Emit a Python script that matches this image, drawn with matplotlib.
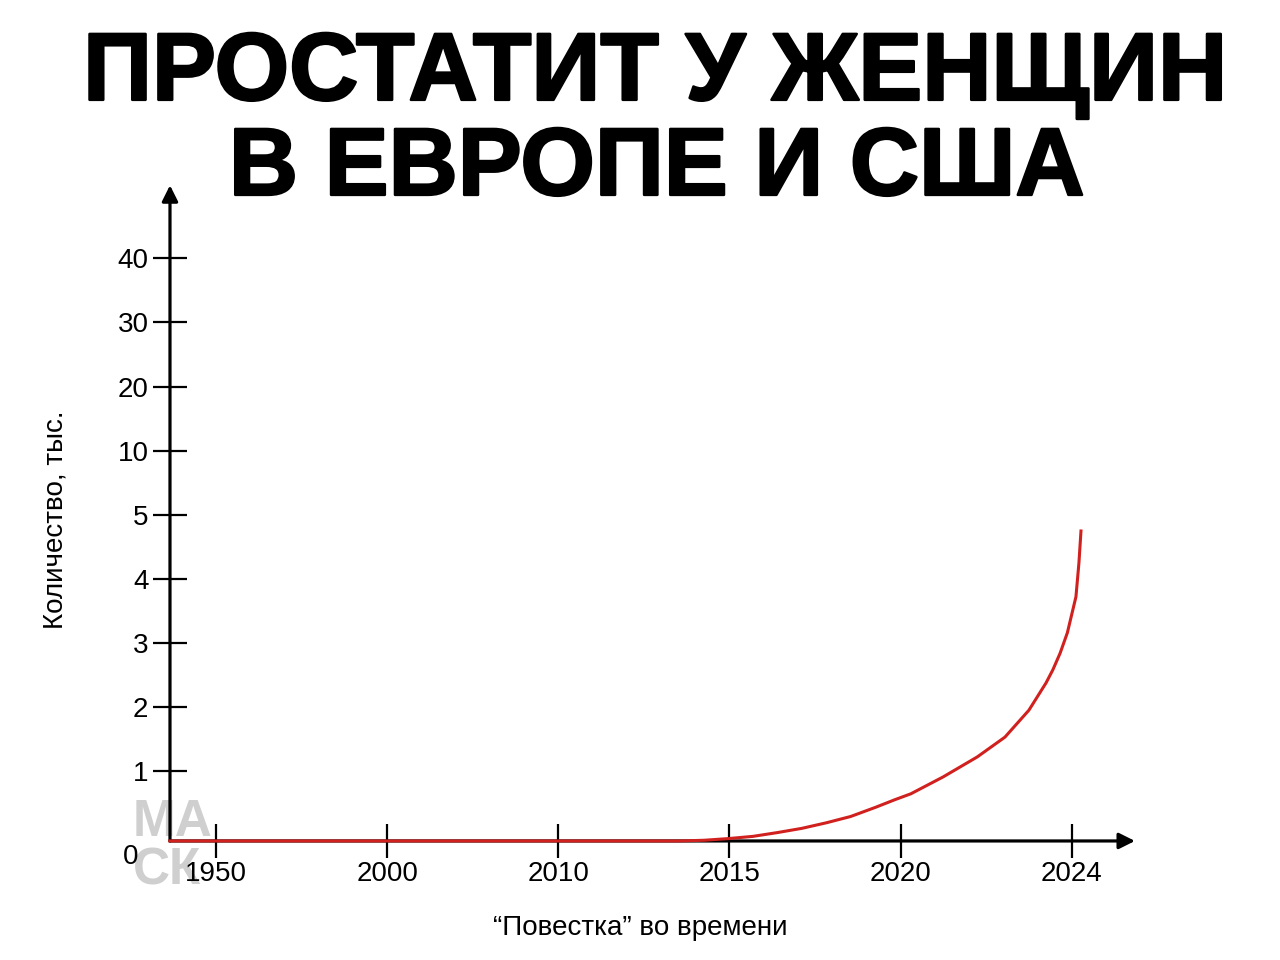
import numpy as np
import matplotlib
matplotlib.use('Agg')
import matplotlib.pyplot as plt
import matplotlib.patheffects as pe

plt.rcParams['font.family'] = ['Liberation Sans', 'DejaVu Sans']

# chart text
title_lines = ['ПРОСТАТИТ У ЖЕНЩИН', 'В ЕВРОПЕ И США']
y_title = 'Количество, тыс.'
x_title = '“Повестка” во времени'

# axis categories (non-uniform scales)
x_ticks_years = [1950, 2000, 2010, 2015, 2020, 2024]
y_ticks_values = [0, 1, 2, 3, 4, 5, 10, 20, 30, 40]

# curve: year vs thousands
curve_years = [1936, 2013.54, 2014.26, 2014.97, 2015.69, 2016.4, 2017.11, 2017.83,
               2018.54, 2019.26, 2019.83, 2020.24, 2020.99, 2021.79, 2022.44,
               2023.0, 2023.4, 2023.56, 2023.73, 2023.9, 2024.1,
               2024.17, 2024.22]
curve_values = [0, 0, 0.01, 0.034, 0.066, 0.12, 0.18, 0.26,
                0.35, 0.48, 0.59, 0.675, 0.915, 1.22, 1.53,
                1.95, 2.375, 2.58, 2.84, 3.16, 3.72,
                4.25, 4.77]

# layout positions of the category ticks
x_pos = np.arange(len(x_ticks_years), dtype=float)
y_pos = np.r_[0.0, np.arange(1, len(y_ticks_values)) + 0.09]


def year_to_pos(yr):
    # extend the end segments so the scale continues past the outer ticks
    return np.interp(yr, [1900] + x_ticks_years + [2028], np.r_[-1.0, x_pos, 6.0])


def value_to_pos(v):
    return np.interp(v, y_ticks_values, y_pos)


fig = plt.figure(figsize=(12.8, 9.6), dpi=100)
ax = fig.add_axes([0.1328, 0.124, 0.7539, 0.683])
ax.set_facecolor('none')

ax.plot(year_to_pos(np.array(curve_years)), value_to_pos(np.array(curve_values)),
        color='#d0211f', lw=2.2, solid_capstyle='butt', solid_joinstyle='round',
        zorder=3, clip_on=False)

ax.set_xlim(-0.27, 5.37)
ax.set_ylim(0, 10.23)

for s in ax.spines.values():
    s.set_visible(False)

arrow = dict(arrowstyle='-|>', lw=2.3, color='black', mutation_scale=24,
             shrinkA=0, shrinkB=0)
ax.annotate('', xy=(1, 0), xytext=(0, 0), xycoords='axes fraction',
            arrowprops=arrow, zorder=2)
ax.annotate('', xy=(0, 1), xytext=(0, 0), xycoords='axes fraction',
            arrowprops=arrow, zorder=2)

ax.set_xticks(x_pos)
ax.set_xticklabels([str(y) for y in x_ticks_years])
ax.set_yticks(y_pos[1:])
ax.set_yticklabels([str(v) for v in y_ticks_values[1:]])
ax.tick_params(axis='both', direction='inout', length=25, width=1.6,
               labelsize=20, color='black', pad=3)
ax.tick_params(axis='x', pad=2)

ax.text(-0.456, -0.25, '0', fontsize=20, ha='right', va='center')

thick = [pe.withStroke(linewidth=1.8, foreground='black')]
fig.text(0.512, 0.896, title_lines[0], ha='center', va='baseline',
         fontsize=69, fontweight='bold', path_effects=thick)
fig.text(0.513, 0.797, title_lines[1], ha='center', va='baseline',
         fontsize=69, fontweight='bold', path_effects=thick)

fig.text(0.043, 0.459, y_title, rotation=90, ha='center', va='center', fontsize=20)
fig.text(0.5, 0.033, x_title, ha='center', va='center', fontsize=20)

# watermark
fig.text(0.104, 0.129, 'МА', color='#cfcfcf', fontsize=37, fontweight='bold', zorder=-1)
fig.text(0.104, 0.079, 'СК', color='#cfcfcf', fontsize=37, fontweight='bold', zorder=-1)

fig.savefig('out.png', dpi=100, facecolor='white')
